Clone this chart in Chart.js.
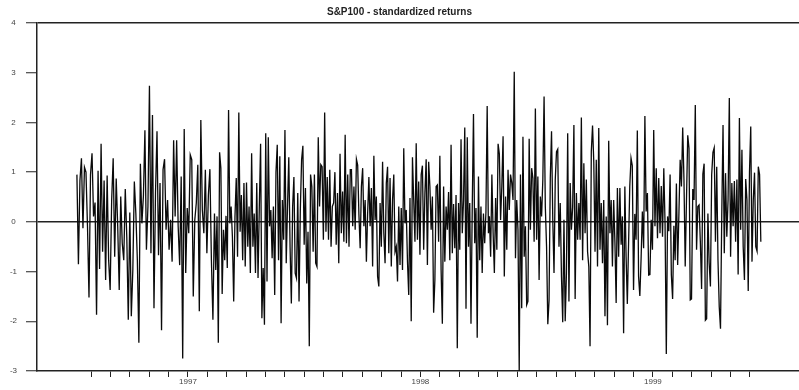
<!DOCTYPE html>
<html>
<head>
<meta charset="utf-8">
<script src="https://cdn.jsdelivr.net/npm/chart.js@4.4.1/dist/chart.umd.min.js"></script>
<style>
  html, body { margin: 0; padding: 0; background: #fff; }
</style>
</head>
<body>
<canvas id="returnsChart" width="799" height="390"></canvas>
<script>
// standardized daily returns, one array per stretch of time
const returnsJul96 = [0.95,-0.85,0.83,1.28,-0.13,1.1,1.0,-0.09,-1.52,0.95,1.38,0.11,0.39,-1.87,1.03,-0.95,1.57,-0.6,0.83,-1.17,0.93,-0.77,-1.37,0.44,1.28,-0.7,0.87,-0.09,-1.37,0.51,-0.43,-0.77,0.66,-0.3,-1.97,0.19,-1.9,-0.97,0.81,0.17,-0.77,-2.43,1.17,-0.03,0.52,1.84,-0.56,0.31,2.74,-0.63,2.15,-1.74,0.58,1.82,-0.67,0.78,-2.18,1.05,1.26,-0.16,0.44,-0.56,0.04,-0.8,1.64,0.11,1.64,-0.09,-0.87,0.91,-2.75,1.87,-1.03,0.28,-0.23,1.35,1.25,-1.5,0.04,0.38,1.15,-1.8,2.05,0.24,-0.23,1.05,-0.63,0.54,1.06,-0.77,-1.97];
const returnsFeb97 = [0.17,-0.97,0.11,-2.43,1.4,1.08,-1.45,-0.16,-0.77,0.12,-0.93,2.25,-0.03,0.31,-0.3,-1.6,0.11,0.88,-0.7,2.2,-0.2,0.54,-0.77,0.78,-0.9,0.79,-0.5,0.31,-1.03,1.38,-0.5,0.17,-1.03,0.78,-1.13,0.31,1.57,-1.94,-0.93,-2.07,1.78,-1.2,1.7,-0.09,0.24,-0.73,0.31,-1.47,1.0,1.55,-0.77,1.32,-2.04,0.44,-0.36,1.85,-0.83,0.31,1.3,-0.5,-1.64,0.31,0.9,-1.03,-1.13,0.58,-1.6,0.24,1.25,1.53,-0.46,0.68,-1.24,-0.2,-2.5,0.95,0.71,-0.6,0.95,-0.83,-0.9,1.7,0.31,1.15,1.11,-0.36,2.2,-0.2,0.9,-0.36,1.05,-0.5,0.31,0.38,1.0,-0.46,0.58,-0.83,1.37,-0.23,0.61,-0.4,1.75,-0.43,0.95,-0.5,1.05];
const returnsSep97 = [1.05,-0.09,0.71,-0.16,1.26,1.14,0.14,-0.53,0.71,1.08,-0.09,0.44,-0.8,0.17,0.9,-0.09,0.68,-0.9,1.33,0.04,0.51,-1.1,-1.3,0.38,-0.5,1.21,-0.23,-0.83,0.78,1.11,-0.63,0.88,-0.9,0.44,0.95,-0.6,-0.5,-1.2,0.31,-0.87,0.28,-0.97,1.48,-0.03,0.24,-0.8,-1.47,0.48,-2.0,1.3,0.44,-0.4,1.58,-0.36,0.81,-0.66,0.95,1.13,-0.56,0.58,1.26,-0.87,1.21,0.71,-0.16,0.51,-1.83,-1.17,0.71,0.74,-0.4,1.33,-0.97,-2.05,0.71,-0.8,0.31,-0.16,0.6,-0.77,1.55,-0.63,0.36,-0.53,0.54,-2.54,0.38,-0.56,1.66,-0.23,0.44,1.9,-1.75,1.7,-0.5,0.38,-2.05,0.28,2.17,-0.43,0.28,-2.33,0.91,-0.77,0.31,-1.03,0.17,-0.43,0.2,2.33,-0.23];
const returnsApr98 = [0.11,-0.7,0.95,-0.23,-1.03,0.48,-0.56,1.57,1.37,0.04,0.71,1.72,-1.1,0.51,-0.56,1.05,0.24,0.95,0.79,0.44,3.02,-0.73,0.44,-0.16,-3.0,0.95,-1.74,1.71,-0.7,-0.09,-1.67,-1.6,1.67,-0.16,1.08,0.88,-0.4,2.28,-0.36,0.91,-1.17,0.51,0.11,0.85,2.52,0.31,-0.5,-2.06,-1.58,0.88,1.82,0.04,-1.03,0.85,1.41,1.46,-0.5,0.38,-1.1,-2.02,0.04,-2.0,-1.03,1.78,-1.6,0.78,-0.16,0.3,1.95,-1.55,0.58,-0.36,0.38,-0.36,2.1,-0.77,1.18,-0.23,0.85,-0.6,-0.9,-2.5,1.41,1.94,1.2,-0.6,1.25,-0.9,1.89,-0.56,0.38,-0.83,0.44,-1.9,0.11,-2.08,1.63,-0.23,0.44,-0.9,0.44,-0.4,-1.63,0.68,-0.7,0.68,-0.46,0.11,-2.24,0.71,-0.7,-1.65];
const returnsNov98 = [-0.5,0.71,1.28,1.13,-1.37,0.16,-0.36,1.84,-1.1,-1.49,-0.73,0.21,-0.53,2.13,0.21,0.58,-1.07,-1.06,0.04,-0.56,1.85,-0.09,1.08,-0.33,0.88,-0.23,0.72,-0.3,1.08,-0.03,-2.66,0.11,-0.19,0.95,-1.07,-1.55,-0.08,-0.77,0.77,-0.87,0.17,1.25,0.71,1.9,0.86,-0.9,0.44,1.74,1.48,-1.57,-1.55,0.66,0.44,2.35,-0.56,0.31,0.34,-0.4,-1.35,0.96,1.17,-1.98,-1.95,0.17,-0.83,-1.3,0.95,1.4,1.49,-0.4,1.11,-0.77,-1.71,-2.15,0.14,1.95,-0.63,0.98,-0.3,0.44,2.49,-0.7,0.78,-0.09,0.82,-0.4,0.85,-1.06,2.09,-0.16,1.45,-0.5,-1.17,0.86,0.44,-1.39,1.0,1.92,-0.8,0.44,0.99,-0.5,-0.59,1.11,0.95,-0.4];

// time spans of each stretch, in months counted from Jan 1996
const stretchMonths = [[6.27, 13.29], [13.37, 20.38], [20.44, 27.51], [27.56, 34.68], [34.74, 41.57]];
const stretches = [returnsJul96, returnsFeb97, returnsSep97, returnsApr98, returnsNov98];

// axis ticks
const monthTicks = [7,8,9,10,11,12,13,14,15,16,17,18,19,20,21,22,23,24,25,26,27,28,29,30,31,32,33,34,35,36,37,38,39,40,41];
const yearLabels = { 12: '1997', 24: '1998', 36: '1999' };
const yTicks = [-3, -2, -1, 0, 1, 2, 3, 4];

Chart.defaults.font.family = "'Liberation Sans', Arial, sans-serif";

const points = [];
stretches.forEach((vals, k) => {
  const [from, to] = stretchMonths[k];
  vals.forEach((v, i) => {
    points.push({ x: from + i * (to - from) / (vals.length - 1), y: v });
  });
});

new Chart(document.getElementById('returnsChart'), {
  type: 'line',
  data: {
    datasets: [{
      data: points,
      borderColor: '#0a0a0a',
      borderWidth: 1.3,
      pointRadius: 0,
      tension: 0,
      fill: false
    }]
  },
  options: {
    responsive: false,
    animation: false,
    layout: { padding: 0 },
    plugins: {
      legend: { display: false },
      tooltip: { enabled: false },
      title: {
        display: true,
        text: 'S&P100 - standardized returns',
        color: '#222',
        font: { size: 10, weight: 'bold' },
        padding: { top: 6, bottom: 5 }
      }
    },
    scales: {
      x: {
        type: 'linear',
        min: 4.21,
        max: 43.54,
        afterBuildTicks: (s) => { s.ticks = monthTicks.map(v => ({ value: v })); },
        afterFit: (s) => { s.height = 19; },
        ticks: {
          autoSkip: false,
          maxRotation: 0,
          minRotation: 0,
          padding: 0,
          color: '#444',
          font: { size: 8 },
          callback: (v) => yearLabels[v] || ''
        },
        grid: {
          drawOnChartArea: false,
          drawTicks: true,
          tickLength: 6,
          tickColor: '#222',
          tickWidth: 1
        },
        border: { display: true, color: '#222', width: 1.5 }
      },
      y: {
        min: -3,
        max: 4,
        afterBuildTicks: (s) => { s.ticks = yTicks.map(v => ({ value: v })); },
        afterFit: (s) => { s.width = 37; },
        ticks: {
          padding: 9,
          crossAlign: 'center',
          color: '#444',
          font: { size: 8 },
          callback: (v) => String(v)
        },
        grid: {
          color: (ctx) => (ctx.tick && (ctx.tick.value === 0 || ctx.tick.value === 4)) ? '#222' : 'rgba(0,0,0,0)',
          lineWidth: 1.5,
          drawTicks: true,
          tickLength: 11,
          tickColor: '#222',
          tickWidth: 1
        },
        border: { display: true, color: '#222', width: 1.5 }
      }
    }
  }
});
</script>
</body>
</html>
